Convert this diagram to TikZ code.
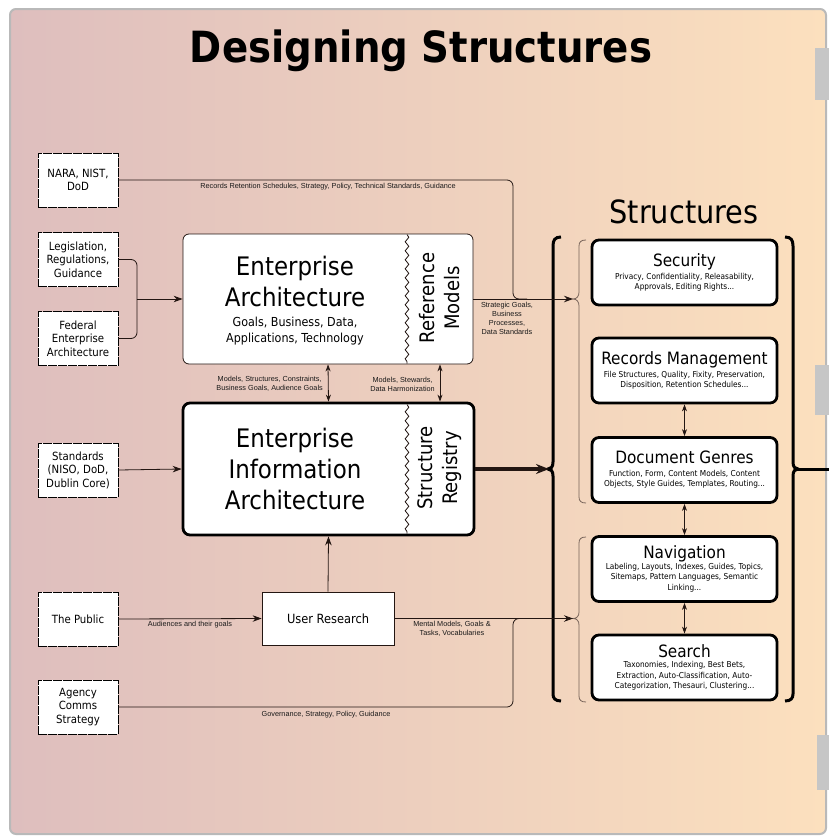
\documentclass[tikz,border=0pt]{standalone}
\usepackage{fontspec}
\setmainfont{DejaVu Sans Condensed}
\newfontfamily\lblfont{Liberation Sans}
\usetikzlibrary{arrows.meta,decorations.pathmorphing}
\definecolor{bgL}{RGB}{222,190,190}
\definecolor{bgR}{RGB}{252,224,190}
\definecolor{ln}{RGB}{35,22,18}
\definecolor{brc}{RGB}{120,100,90}
\begin{document}
\begin{tikzpicture}[x=1pt,y=-1pt,
  src/.style={draw=black, fill=white, line width=0.8, dash pattern=on 9pt off 1pt, minimum width=80, minimum height=54, align=center, font=\fontsize{11.3}{13.5}\selectfont, inner sep=1},
  line/.style={draw=ln, line width=0.8},
  arr/.style={line, -{Stealth[length=9pt,width=6.5pt]}},
  dbl/.style={line, {Stealth[length=7pt,width=5pt]}-{Stealth[length=7pt,width=5pt]}},
  lbl/.style={font=\lblfont\fontsize{7.3}{9}\selectfont, inner sep=0, align=center, text=black!90},
  sbox/.style={draw=black, fill=white, line width=2.8, rounded corners=7, minimum width=185, minimum height=65, align=center, inner sep=2, font=\fontsize{8.2}{10.5}\selectfont},
  bigtxt/.style={font=\fontsize{25.5}{31}\selectfont, align=center, inner sep=0},
  rottxt/.style={rotate=90, font=\fontsize{20}{25}\selectfont, align=center, inner sep=0}
]
\useasboundingbox (0,0) rectangle (829,838);
\fill[white] (0,0) rectangle (829,838);
\draw[draw=gray!55, line width=2, rounded corners=6, left color=bgL, right color=bgR] (10,9) rectangle (826,834);
\fill[gray!45] (815,48) rectangle (829,100);
\fill[gray!45] (815,365) rectangle (829,415);
\fill[gray!45] (817,735) rectangle (829,790);

% title
\node[font=\fontsize{43}{46}\selectfont\bfseries] (title) at (421,51) {Designing Structures};

% sources
\node[src] (nara) at (78,180) {NARA, NIST,\\DoD};
\node[src] (leg) at (78,259.5) {Legislation,\\Regulations,\\Guidance};
\node[src] (fea) at (78,338.5) {Federal\\Enterprise\\Architecture};
\node[src] (std) at (78,470) {Standards\\(NISO, DoD,\\Dublin Core)};
\node[src] (pub) at (78,619) {The Public};
\node[src] (agc) at (78,707) {Agency\\Comms\\Strategy};

% EA
\node[draw=ln, fill=white, line width=0.8, rounded corners=6, minimum width=290, minimum height=130, inner sep=0] (ea) at (328,299) {};
\draw[line, decorate, decoration={snake, segment length=9pt, amplitude=1.8pt}] (407,234.5) -- (407,363.5);
\node[bigtxt] (eat) at (295,281) {Enterprise\\Architecture};
\node[font=\fontsize{12.4}{16}\selectfont, align=center, inner sep=0] (ead) at (295,331) {Goals, Business, Data,\\Applications, Technology};
\node[rottxt] (rm) at (440,298) {Reference\\Models};

% EIA
\node[draw=black, fill=white, line width=2.8, rounded corners=7, minimum width=291, minimum height=132, inner sep=0] (eia) at (328.5,469) {};
\draw[line, decorate, decoration={snake, segment length=9pt, amplitude=1.8pt}] (407,404.5) -- (407,533.5);
\node[bigtxt] (eiat) at (295,469) {Enterprise\\Information\\Architecture};
\node[rottxt] (sr) at (440,468) {Structure\\Registry};

% User research
\node[draw=ln, fill=white, line width=0.8, minimum width=132, minimum height=53, font=\fontsize{12.7}{14}\selectfont] (ur) at (328,618.5) {User Research};

% Structures
\node[font=\fontsize{32}{34}\selectfont] (sth) at (684,212) {Structures};
\node[sbox] (sec) at (684.5,272.5) {{\fontsize{17}{18}\selectfont Security}\\[2pt]Privacy, Confidentiality, Releasability,\\Approvals, Editing Rights...};
\node[sbox] (rec) at (684.5,370.5) {{\fontsize{17}{18}\selectfont Records Management}\\[2pt]File Structures, Quality, Fixity, Preservation,\\Disposition, Retention Schedules...};
\node[sbox] (gen) at (684.5,470) {{\fontsize{17}{18}\selectfont Document Genres}\\[2pt]Function, Form, Content Models, Content\\Objects, Style Guides, Templates, Routing...};
\node[sbox] (nav) at (684.5,569) {{\fontsize{17}{18}\selectfont Navigation}\\[0pt]Labeling, Layouts, Indexes, Guides, Topics,\\Sitemaps, Pattern Languages, Semantic\\Linking...};
\node[sbox] (sea) at (684.5,667.5) {{\fontsize{17}{18}\selectfont Search}\\[0pt]Taxonomies, Indexing, Best Bets,\\Extraction, Auto-Classification, Auto-\\Categorization, Thesauri, Clustering...};

\draw[dbl] (rec.south) -- (gen.north);
\draw[dbl] (gen.south) -- (nav.north);
\draw[dbl] (nav.south) -- (sea.north);

% brace coordinates
\coordinate (b1) at (573,299);
\coordinate (b2) at (573,618.5);
\coordinate (bL) at (549,469);
\coordinate (bR) at (798,469);
\coordinate (edge) at (829,469);
\coordinate (jN) at (513,299);
\coordinate (jA) at (513,618.5);
\coordinate (jL) at (137,299);

% braces
\draw[black, line width=3] (561,237) .. controls (555,237) and (553,240) .. (553,246) -- (553,462) .. controls (553,467) and (551,469) .. (548,469) .. controls (551,469) and (553,471) .. (553,476) -- (553,694) .. controls (553,698) and (555,701) .. (561,701);
\draw[black, line width=3] (785,237) .. controls (791,237) and (793,240) .. (793,246) -- (793,462) .. controls (793,467) and (795,469) .. (798,469) .. controls (795,469) and (793,471) .. (793,476) -- (793,694) .. controls (793,698) and (791,701) .. (785,701);
\draw[brc, line width=0.8] (586,240) .. controls (581,240) and (579,242) .. (579,246) -- (579,292) .. controls (579,296) and (577,299) .. (573,299) .. controls (577,299) and (579,302) .. (579,306) -- (579,497) .. controls (579,501) and (581,503) .. (586,503);
\draw[brc, line width=0.8] (586,537) .. controls (581,537) and (579,539) .. (579,543) -- (579,612) .. controls (579,616) and (577,618.5) .. (573,618.5) .. controls (577,618.5) and (579,621) .. (579,625) -- (579,696) .. controls (579,700) and (581,702) .. (586,702);
\draw[black, line width=3] (bR) -- (edge);

% connectors
\draw[line, rounded corners=6] (nara.east) -- (nara.east -| jN) -- (jN) -- ++(14,0);
\draw[arr] (ea.east) -- (b1);
\draw[line, rounded corners=6] (leg.east) -| (jL);
\draw[line, rounded corners=6] (fea.east) -| (jL);
\draw[arr] (jL) -- (ea.west);
\draw[arr] (std.east) -- (eia.west);
\draw[dbl] (ea.south) -- (eia.north);
\draw[dbl] (ea.south -| rm) -- (eia.north -| rm);
\draw[arr] (ur.north) -- (eia.south);
\draw[arr] (pub.east) -- (ur.west);
\draw[arr] (ur.east) -- (b2);
\draw[line, rounded corners=6] (agc.east) -- (agc.east -| jA) -- (jA) -- ++(14,0);
\draw[line, line width=3.5, -{Stealth[length=13pt,width=10pt]}] (eia.east) -- (bL);

% labels
\node[lbl] (lnara) at (328,187) {Records Retention Schedules, Strategy, Policy, Technical Standards, Guidance};
\node[lbl] (lstrat) at (507,318) {Strategic Goals,\\Business\\Processes,\\Data Standards};
\node[lbl, anchor=east] (lmod1) at (323,384) {Models, Structures, Constraints,\\Business Goals, Audience Goals};
\node[lbl, anchor=east] (lmod2) at (435,384) {Models, Stewards,\\Data Harmonization};
\node[lbl] (laud) at (190,625) {Audiences and their goals};
\node[lbl] (lment) at (452,629) {Mental Models, Goals \&\\Tasks, Vocabularies};
\node[lbl] (lgov) at (326,715) {Governance, Strategy, Policy, Guidance};
\end{tikzpicture}
\end{document}
